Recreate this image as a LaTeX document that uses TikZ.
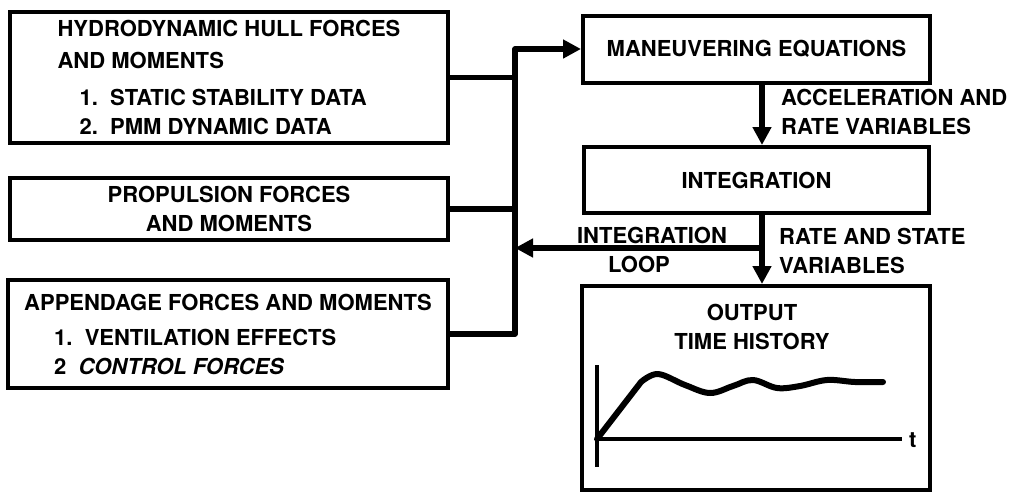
\documentclass[tikz,border=0pt]{standalone}
\usepackage{fontspec}
\setmainfont{TeX Gyre Heros}
\usetikzlibrary{positioning, arrows.meta}

\begin{document}
\begin{tikzpicture}[
  x=1pt, y=-1pt,
  every node/.style = {font=\fontsize{22}{29}\selectfont\bfseries},
  box/.style = {draw, line width=4pt, inner sep=0pt},
  wire/.style = {line width=5.5pt, line join=round},
  arrow/.style = {wire, -{Triangle[length=18pt, width=18pt]}},
  lbl/.style = {align=left, inner sep=0pt},
  axis/.style = {line width=4pt},
  curve/.style = {line width=6pt, line cap=round, line join=round}
]
\useasboundingbox (0,0) rectangle (1012,493);

% --- input boxes
\node[box, minimum width=438pt, minimum height=131pt, align=left] (hull) at (229,77.5) {HYDRODYNAMIC HULL FORCES\\[3pt]AND MOMENTS\\[8pt]\hspace*{22pt}1.\ \ STATIC STABILITY DATA\\\hspace*{22pt}2.\ \ PMM DYNAMIC DATA};
\node[box, minimum width=438pt, minimum height=62pt, align=center] (prop) at (229,209) {PROPULSION FORCES\\AND MOMENTS};
\node[box, minimum width=440pt, minimum height=108pt, align=left] (app) at (228,334) {APPENDAGE FORCES AND MOMENTS\\[6pt]\hspace*{30pt}1.\ \ VENTILATION EFFECTS\\\hspace*{30pt}2\ \ \textit{CONTROL FORCES}};

% --- right column
\node[box, minimum width=347pt, minimum height=67pt] (man) at (756.5,49) {MANEUVERING EQUATIONS};
\node[box, minimum width=345pt, minimum height=66pt] (integ) at (756.5,180) {INTEGRATION};
\node[box, minimum width=348pt, minimum height=204pt] (out) at (756,388) {};
\node[lbl, align=center, below=20pt of out.north, xshift=-4pt] (outtxt) {OUTPUT\\TIME HISTORY};

% --- bus
\coordinate (jtop) at (515,49);
\coordinate (jloop) at (762,248);
\draw[wire] (hull.east) -- (hull.east -| jtop);
\draw[wire] (prop.east) -- (prop.east -| jtop);
\draw[arrow] (app.east) -| (jtop) -- (man.west);

% --- flow down
\draw[arrow] ([xshift=5.5pt]man.south) -- ([xshift=5.5pt]integ.north);
\draw[arrow] ([xshift=5.5pt]integ.south) -- ([xshift=6pt]out.north);
\draw[arrow] (jloop) -- (jloop -| jtop);

% --- labels
\node[lbl, anchor=west] (acclbl) at (781,112) {ACCELERATION AND\\RATE VARIABLES};
\node[lbl, anchor=west] (ratelbl) at (779,251) {RATE AND STATE\\VARIABLES};
\node[lbl, align=center] (looplbl) at (652,250) {INTEGRATION\\LOOP\hspace*{26pt}};

% --- time history sketch
\draw[axis] (597,365) -- (597,467);
\draw[axis] (597,439) -- (902,439);
\node[inner sep=0pt, anchor=west] (tlbl) at (909,440) {t};
\draw[curve] (597,439) -- (641,382) -- plot[smooth, tension=0.6] coordinates {(641,382) (658,374) (685,385) (710,393) (733,386) (753,380) (777,388) (800,386) (827,380) (855,382) (883,382)};

\end{tikzpicture}
\end{document}
